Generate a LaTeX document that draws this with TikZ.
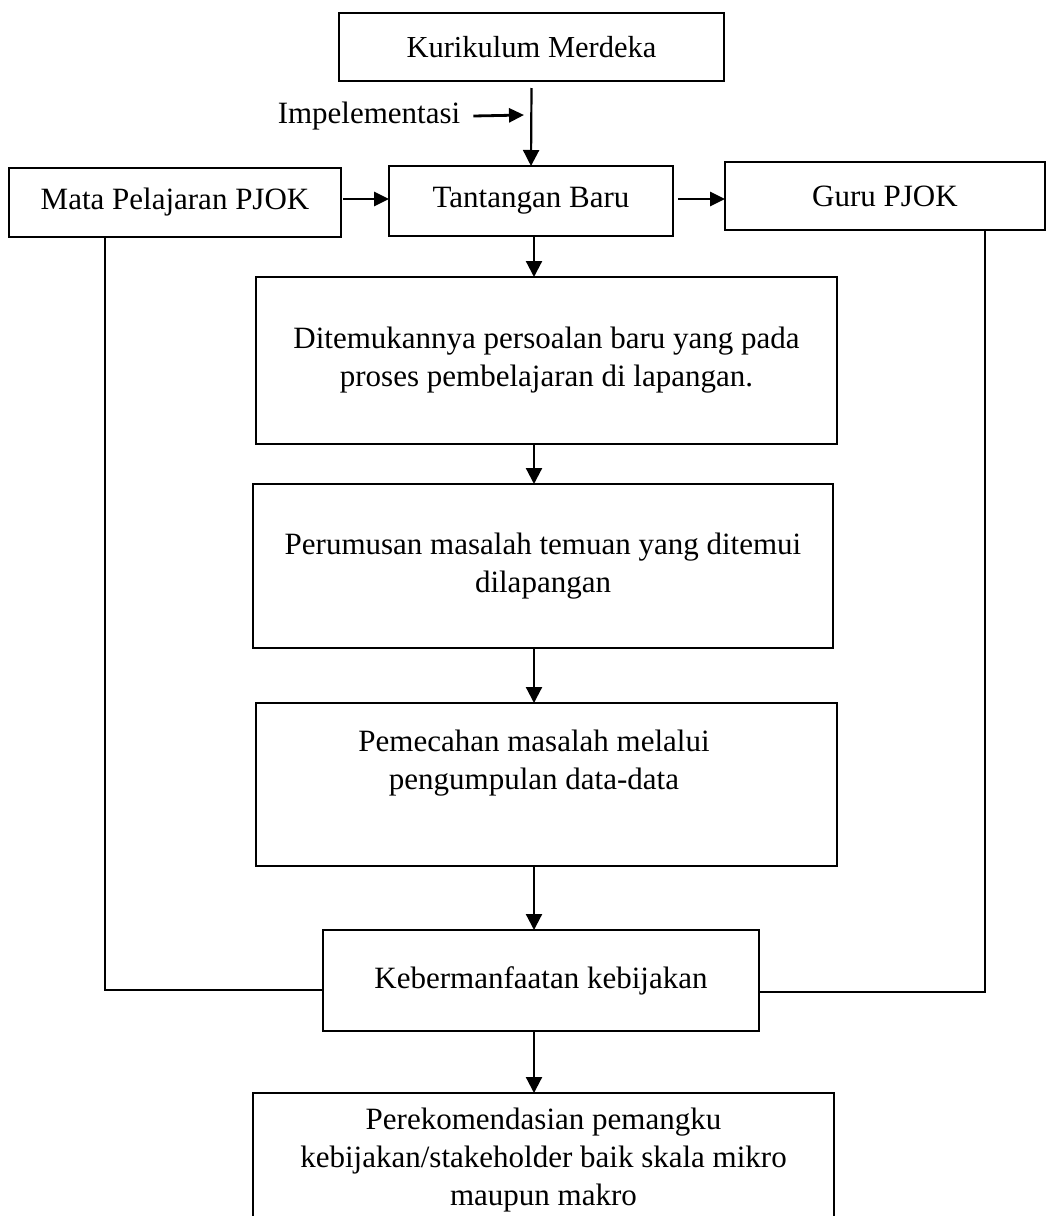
\documentclass[tikz,border=0pt]{standalone}
\usepackage{fontspec}
\setmainfont{Liberation Serif}
\usetikzlibrary{arrows.meta}
\begin{document}
\begin{tikzpicture}[x=1pt,y=-1pt,
  box/.style={draw,line width=2.8pt,rectangle,inner sep=0pt,outer sep=0pt,align=center,
    font=\fontsize{31}{38}\selectfont},
  txt/.style={inner sep=0pt,align=center,font=\fontsize{31}{38}\selectfont},
  arr/.style={line width=2.2pt,-{Triangle[width=16pt,length=16pt]}},
  harr/.style={line width=2.8pt,-{Triangle[width=14pt,length=15pt]}},
  side/.style={line width=1.5pt}]
\path[use as bounding box,clip] (0,0) rectangle (1048,1216);
\fill[white] (0,0) rectangle (1048,1216);

\node[box,minimum width=385,minimum height=68,font=\fontsize{30.5}{36}\selectfont] (kur) at (531.5,47) {Kurikulum Merdeka};
\node[txt] (impl) at (369,116) {Impelementasi};
\coordinate (implend) at (524,115);

\node[box,minimum width=332,minimum height=69] (mata) at (175,202.5) {Mata Pelajaran PJOK};
\node[box,minimum width=284,minimum height=70] (tant) at (531,201) {Tantangan Baru};
\node[box,minimum width=320,minimum height=68] (guru) at (885,196) {Guru PJOK};

\node[box,minimum width=581,minimum height=167] (b3) at (546.5,360.5)
  {Ditemukannya persoalan baru yang pada\\proses pembelajaran di lapangan.};
\node[box,minimum width=580,minimum height=164] (b4) at (543,566)
  {Perumusan masalah temuan yang ditemui\\dilapangan};
\node[box,minimum width=581,minimum height=163] (b5) at (546.5,784.5) {};
\node[txt] (t5) at (534,763) {Pemecahan masalah melalui\\pengumpulan data-data};
\node[box,minimum width=436,minimum height=101] (keb) at (541,980.5) {Kebermanfaatan kebijakan};
\node[box,minimum width=581,minimum height=170] (bot) at (543.5,1178) {};
\node[txt] (tbot) at (543.5,1160)
  {Perekomendasian pemangku\\kebijakan/stakeholder baik skala mikro\\maupun makro};

\coordinate (col) at (534,0);
\coordinate (lx) at (105,0);
\coordinate (rx) at (985,0);

\draw[arr] ([yshift=-7pt]kur.south) -- (tant.north);
\draw[harr] ([xshift=13pt]impl.east) -- (implend);
\draw[harr] ([shift={(2pt,3.5pt)}]mata.east) -- ([yshift=2pt]tant.west);
\draw[harr] ([shift={(5pt,2pt)}]tant.east) -- ([yshift=-3pt]guru.west);
\draw[arr] (tant.south -| col) -- (b3.north -| col);
\draw[arr] (b3.south -| col) -- (b4.north -| col);
\draw[arr] (b4.south -| col) -- (b5.north -| col);
\draw[arr] (b5.south -| col) -- (keb.north -| col);
\draw[arr] (keb.south -| col) -- (bot.north -| col);

\draw[side] (mata.south -| lx) |- ([yshift=-9.5pt]keb.west);
\draw[side] (guru.south -| rx) |- ([yshift=-11.5pt]keb.east);
\end{tikzpicture}
\end{document}
